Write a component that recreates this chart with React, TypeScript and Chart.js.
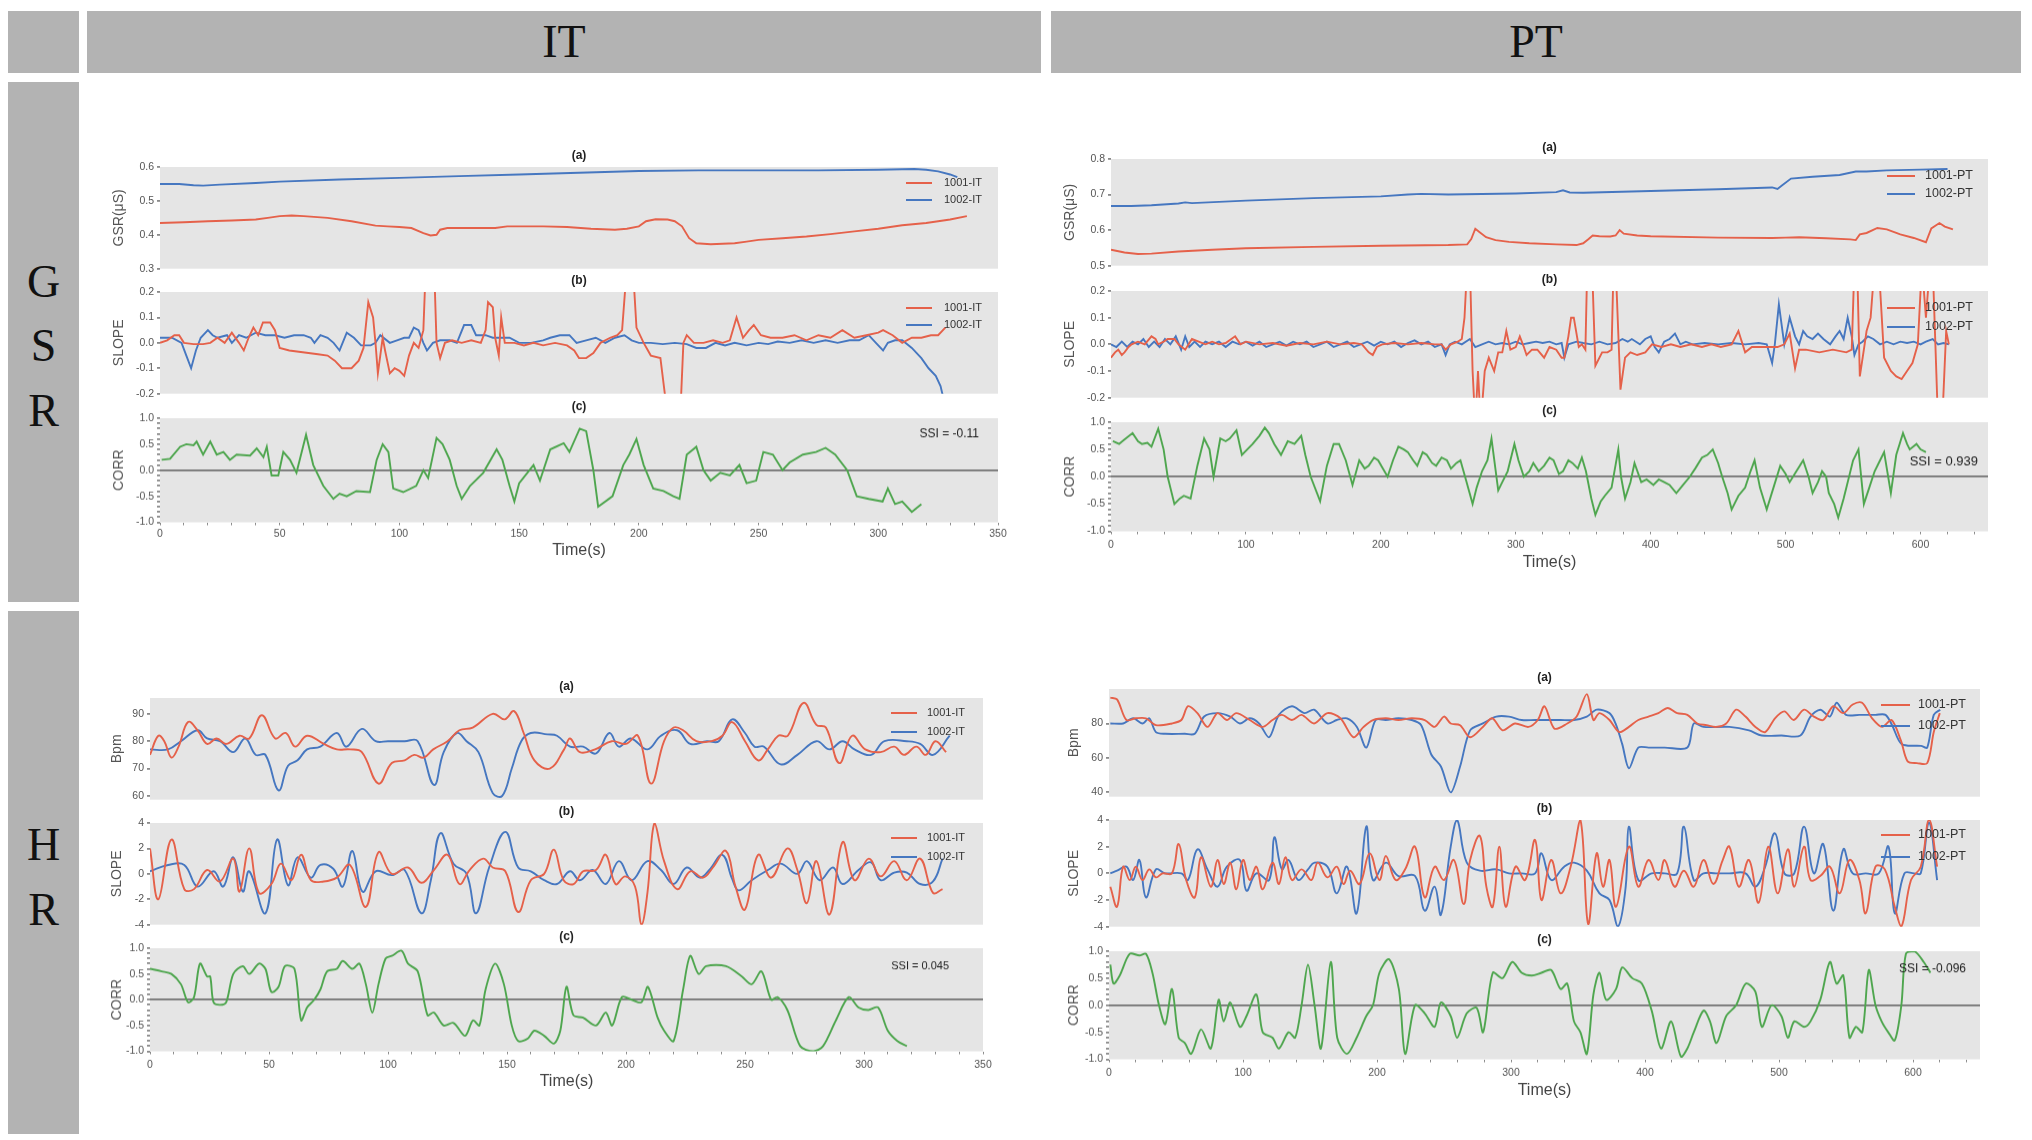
import { useEffect, useRef } from "react"
import { Chart, registerables, type ChartConfiguration, type Plugin } from "chart.js"

Chart.register(...registerables)
Chart.defaults.font.family = "'Liberation Sans', Arial, sans-serif"

type Pt = [number, number]

const RED = "#e5614a"
const BLUE = "#4677c0"
const GREEN = "#4ea64e"

// ---------- GSR, IT ----------
const gsrIt1001: Pt[] = [
  [0, 0.435], [10, 0.437], [20, 0.44], [30, 0.442], [40, 0.445], [45, 0.45], [50, 0.455], [55, 0.457],
  [60, 0.455], [70, 0.45], [80, 0.44], [90, 0.427], [95, 0.425], [100, 0.423], [105, 0.42], [110, 0.405],
  [113, 0.398], [115.5, 0.4], [117, 0.415], [120, 0.42], [130, 0.42], [140, 0.42], [145, 0.425], [150, 0.425],
  [160, 0.425], [170, 0.423], [180, 0.418], [190, 0.415], [195, 0.418], [200, 0.425], [203, 0.44], [207, 0.446],
  [212, 0.445], [215, 0.44], [218, 0.425], [221, 0.39], [224, 0.375], [230, 0.372], [240, 0.375], [245, 0.38],
  [250, 0.385], [260, 0.39], [270, 0.395], [280, 0.402], [290, 0.41], [300, 0.418], [310, 0.428], [320, 0.435],
  [330, 0.445], [337, 0.455],
]
const gsrIt1002: Pt[] = [
  [0, 0.55], [8, 0.55], [14, 0.546], [18, 0.545], [25, 0.548], [40, 0.553], [50, 0.557], [75, 0.563],
  [100, 0.568], [125, 0.573], [150, 0.578], [175, 0.583], [200, 0.588], [225, 0.59], [250, 0.59], [275, 0.59],
  [300, 0.592], [315, 0.594], [320, 0.592], [325, 0.587], [330, 0.578], [333, 0.57],
]
const gsrItSlope1001: Pt[] = [
  [0, 0], [3, 0.01], [6, 0.03], [8, 0.03], [10, 0.0], [14, -0.005], [18, -0.005], [21, 0.0], [24, 0.02],
  [27, 0.0], [30, 0.04], [33, 0.0], [35, -0.03], [37, 0.02], [39, 0.06], [41, 0.03], [43, 0.08], [46, 0.08],
  [48, 0.05], [50, -0.02], [54, -0.03], [58, -0.035], [62, -0.04], [66, -0.045], [70, -0.05], [73, -0.07],
  [76, -0.1], [80, -0.1], [83, -0.07], [85, -0.02], [87, 0.16], [89, 0.1], [90, 0.0], [91, -0.12], [92, -0.05],
  [93, 0.02], [94, -0.03], [96, -0.12], [98, -0.1], [100, -0.11], [102, -0.13], [104, -0.05], [106, 0.0],
  [108, -0.02], [110, 0.05], [111, 0.3], [113, 0.3], [114.5, 0.3], [115.5, 0.0], [117, -0.06], [119, 0.0],
  [122, 0.01], [126, 0.0], [130, 0.01], [134, 0.0], [136, 0.05], [137, 0.16], [139, 0.14], [140, 0.02],
  [141.5, -0.05], [142.5, 0.1], [144, 0.0], [148, 0.0], [152, -0.01], [156, 0.0], [160, -0.01], [165, 0.0],
  [170, -0.01], [173, -0.03], [175, -0.06], [178, -0.06], [181, -0.04], [184, 0.0], [188, 0.02], [191, 0.03],
  [193, 0.05], [195, 0.3], [197.5, 0.3], [199, 0.06], [202, 0.0], [205, -0.05], [209, -0.06], [211.5, -0.25],
  [214, -0.35], [217, -0.35], [218.6, 0.0], [220, 0.03], [223, 0.0], [227, 0.0], [231, 0.01], [235, 0.0],
  [238, 0.01], [240.8, 0.1], [243.5, 0.02], [246, 0.05], [248, 0.07], [251, 0.03], [255, 0.02], [260, 0.02],
  [265, 0.03], [270, 0.01], [275, 0.03], [280, 0.02], [285, 0.05], [290, 0.02], [295, 0.03], [300, 0.04],
  [302, 0.05], [306, 0.03], [310, 0.0], [314, 0.02], [318, 0.02], [322, 0.03], [325, 0.03], [328, 0.06],
]
const gsrItSlope1002: Pt[] = [
  [0, 0.02], [5, 0.02], [9, 0.0], [11, -0.05], [13, -0.1], [15, -0.03], [17, 0.02], [20, 0.05], [22, 0.03],
  [24, 0.02], [28, 0.03], [30, 0.0], [33, 0.03], [36, 0.02], [40, 0.04], [44, 0.03], [48, 0.03], [52, 0.02],
  [56, 0.03], [60, 0.03], [63, 0.02], [64.5, 0.0], [67, 0.03], [70, 0.02], [72.5, 0.0], [75, -0.03], [78, 0.04],
  [81, 0.02], [84, -0.01], [88, -0.01], [90, 0.0], [92, 0.03], [96, 0.0], [99, 0.01], [102, 0.02], [104, 0.02],
  [106, 0.06], [108, 0.05], [110, 0.0], [111.5, -0.03], [114, 0.0], [117, 0.01], [121, 0.01], [124, 0.0],
  [127, 0.07], [130, 0.07], [132, 0.03], [136, 0.03], [139, 0.02], [143, 0.02], [146, 0.02], [150, 0.0],
  [155, 0.0], [160, 0.01], [163, 0.02], [167, 0.03], [171, 0.03], [174, 0.0], [178, 0.01], [182, 0.02],
  [186, 0.0], [190, 0.02], [194, 0.03], [197, 0.01], [200, 0.0], [205, 0.0], [210, -0.005], [215, 0.0],
  [220, -0.005], [224, -0.02], [228, -0.02], [232, 0.0], [236, -0.01], [240, 0.0], [245, -0.01], [250, 0.0],
  [254, -0.005], [258, 0.005], [263, 0.0], [268, 0.01], [273, 0.0], [278, 0.01], [283, 0.0], [288, 0.01],
  [292, 0.01], [296, 0.03], [299, 0.0], [302, -0.03], [304, 0.0], [307, 0.01], [310, 0.01], [314, -0.02],
  [318, -0.06], [321, -0.1], [324, -0.13], [326, -0.17], [328, -0.25],
]
const gsrItCorr: Pt[] = [
  [0.7, 0.2], [4.2, 0.22], [8.4, 0.45], [11, 0.5], [14, 0.48], [15.3, 0.55], [18, 0.3], [21, 0.55], [23.7, 0.3],
  [26.5, 0.35], [29.2, 0.2], [32, 0.3], [37.6, 0.28], [40.4, 0.42], [43.2, 0.25], [44.6, 0.45], [46.6, -0.1],
  [49.4, -0.1], [51.5, 0.35], [54.3, 0.2], [57, -0.05], [61, 0.68], [64, 0.1], [68.2, -0.3], [72.4, -0.55],
  [75, -0.45], [78, -0.5], [82, -0.4], [87.7, -0.42], [90.5, 0.2], [93, 0.5], [95.4, 0.35], [97.4, -0.35],
  [101.6, -0.42], [107, -0.3], [110, 0.0], [112, -0.15], [115.5, 0.62], [118, 0.5], [121, 0.2], [123.9, -0.3],
  [126, -0.55], [129.5, -0.3], [135, -0.05], [140.6, 0.4], [143, 0.2], [146, -0.3], [148, -0.6], [150, -0.25],
  [156, 0.1], [158.7, -0.2], [163, 0.4], [168.6, 0.52], [171, 0.35], [175.3, 0.8], [178, 0.75], [181, 0.0],
  [183, -0.7], [189, -0.5], [193.5, 0.1], [196, 0.3], [199, 0.6], [202, 0.1], [206, -0.35], [210.3, -0.4],
  [214.4, -0.5], [217, -0.55], [220, 0.3], [224, 0.45], [227, 0.0], [230, -0.2], [234, -0.05], [238, -0.1],
  [242, 0.1], [245, -0.25], [249, -0.2], [252, 0.35], [256, 0.3], [260, 0.0], [263, 0.15], [268.5, 0.3],
  [274, 0.35], [278, 0.43], [282, 0.3], [287, 0.0], [291, -0.5], [296, -0.55], [301.8, -0.6], [304, -0.35],
  [307, -0.65], [310, -0.6], [314, -0.8], [318, -0.65],
]

// ---------- GSR, PT ----------
const gsrPt1001: Pt[] = [
  [0, 0.545], [10, 0.537], [20, 0.533], [30, 0.534], [50, 0.54], [75, 0.545], [100, 0.549], [150, 0.553],
  [200, 0.556], [250, 0.558], [264, 0.56], [267, 0.575], [270, 0.604], [273, 0.595], [278, 0.58], [285, 0.572],
  [295, 0.567], [310, 0.563], [330, 0.56], [345, 0.558], [350, 0.563], [354, 0.575], [357, 0.585], [362, 0.583],
  [370, 0.582], [374, 0.585], [377, 0.6], [380, 0.59], [390, 0.585], [400, 0.583], [450, 0.579], [490, 0.578],
  [500, 0.579], [510, 0.58], [530, 0.577], [548, 0.574], [552, 0.572], [555, 0.588], [560, 0.592], [568, 0.606],
  [575, 0.602], [585, 0.588], [595, 0.578], [604, 0.566], [608, 0.605], [614, 0.62], [618, 0.61], [624, 0.602],
]
const gsrPt1002: Pt[] = [
  [0, 0.668], [15, 0.668], [30, 0.67], [50, 0.675], [55, 0.678], [60, 0.676], [100, 0.683], [150, 0.69],
  [200, 0.695], [220, 0.7], [230, 0.702], [250, 0.7], [300, 0.703], [330, 0.707], [335, 0.712], [340, 0.706],
  [350, 0.705], [400, 0.71], [450, 0.715], [490, 0.72], [494, 0.716], [497, 0.725], [504, 0.745], [520, 0.75],
  [540, 0.755], [552, 0.765], [560, 0.765], [575, 0.768], [600, 0.77], [620, 0.772],
]
const gsrPtSlope1001: Pt[] = [
  [0, -0.05], [3, -0.03], [5.4, -0.02], [8, -0.04], [10, -0.03], [13, -0.01], [15.3, 0.0], [20, 0.01], [25, 0.0],
  [30, 0.03], [33, 0.02], [35, 0.0], [39, 0.01], [42, 0.02], [47, 0.02], [50, 0.0], [55, -0.02], [60, 0.02],
  [65, 0.01], [70, 0.0], [75, 0.01], [80, 0.0], [85, 0.005], [92, 0.03], [96, 0.0], [100, 0.01], [110, 0.0],
  [120, 0.005], [130, -0.005], [140, 0.005], [150, 0.0], [160, 0.01], [170, 0.0], [180, 0.005], [186, 0.0],
  [191, -0.03], [194, -0.04], [197, -0.01], [201, 0.0], [210, 0.005], [220, 0.0], [230, 0.005], [240, 0.0],
  [245, 0.0], [248, -0.02], [252, 0.0], [257, 0.01], [260, 0.02], [262, 0.1], [264, 0.3], [266, 0.3],
  [268, -0.1], [270, -0.3], [272, -0.1], [274, -0.3], [277, -0.1], [280, -0.05], [284, -0.1], [287, -0.03],
  [290, -0.03], [293, 0.05], [296, -0.02], [300, -0.01], [303, 0.03], [306, -0.01], [308, -0.04], [312, -0.02],
  [316, -0.02], [321, -0.05], [325, -0.01], [330, -0.02], [334, -0.05], [336, -0.05], [339, 0.03], [341, 0.1],
  [343, 0.1], [346.7, -0.01], [349, 0.0], [351.6, -0.02], [353, 0.3], [356.5, 0.3], [359, -0.08], [364, -0.03],
  [368, -0.03], [371, -0.02], [372.5, 0.3], [374, 0.3], [377.6, -0.17], [381, -0.05], [385, -0.03], [390, -0.04],
  [396, -0.03], [401, 0.0], [408, -0.01], [415, 0.0], [422, -0.01], [430, 0.0], [438, -0.01], [445, 0.0],
  [452, -0.01], [460, 0.0], [465, 0.05], [470, -0.03], [475, -0.01], [485, -0.01], [494, -0.01], [499, 0.0],
  [503, 0.04], [507, -0.09], [510, -0.02], [515, -0.02], [525, -0.03], [535, -0.02], [545, -0.03], [549, -0.02],
  [551, 0.3], [553, 0.3], [555, -0.12], [558, -0.02], [560, 0.05], [563, 0.1], [566, 0.3], [569, 0.3],
  [573, -0.05], [578, -0.1], [582, -0.12], [586, -0.13], [590, -0.1], [594, -0.07], [598, 0.0], [601, 0.3],
  [604, 0.1], [607, 0.3], [609, 0.3], [611, 0.0], [613, -0.3], [616, -0.3], [619, 0.05], [621, 0.0],
]
const gsrPtSlope1002: Pt[] = [
  [0, 0.0], [4, -0.01], [8, 0.01], [12, -0.01], [16, 0.01], [20, 0.0], [24, 0.02], [28, -0.01], [32, 0.01],
  [36, -0.01], [40, 0.02], [44, 0.0], [48, 0.03], [52, -0.02], [55, 0.03], [58, -0.01], [62, 0.01], [66, -0.01],
  [70, 0.01], [75, 0.0], [80, 0.01], [85, -0.01], [90, 0.01], [95, 0.0], [100, 0.01], [105, -0.005], [110, 0.01],
  [115, -0.01], [120, 0.0], [125, 0.01], [130, -0.005], [135, 0.01], [140, 0.0], [145, 0.01], [150, -0.01],
  [155, 0.0], [160, 0.01], [165, -0.01], [170, 0.0], [175, 0.01], [180, -0.01], [185, 0.0], [190, 0.01],
  [195, -0.005], [200, 0.01], [205, 0.0], [210, 0.01], [215, -0.01], [220, 0.005], [225, 0.015], [230, 0.0],
  [235, 0.01], [240, -0.01], [245, 0.0], [248, -0.04], [251, 0.0], [255, 0.01], [260, 0.0], [266, 0.02],
  [270, -0.01], [275, 0.0], [280, 0.01], [285, 0.0], [290, 0.005], [295, 0.0], [300, 0.01], [305, 0.0],
  [310, 0.005], [315, 0.01], [320, 0.005], [325, 0.01], [330, 0.0], [334, 0.005], [336, -0.05], [339, 0.0],
  [345, 0.01], [350, 0.005], [356, 0.0], [362, 0.01], [368, 0.0], [374, 0.005], [379, 0.02], [383, 0.01],
  [386, 0.02], [392, 0.0], [396, 0.02], [400, 0.03], [403, -0.01], [406, -0.03], [410, 0.01], [414, 0.02],
  [418, 0.04], [422, 0.0], [426, 0.01], [431, 0.0], [440, 0.005], [450, 0.0], [460, 0.005], [470, 0.0],
  [480, 0.005], [486, 0.0], [490, -0.07], [492, 0.0], [495, 0.15], [499, 0.0], [503, 0.1], [507, 0.03],
  [510, 0.0], [513, 0.05], [516, 0.03], [520, 0.02], [524, 0.04], [528, 0.02], [533, 0.0], [537, 0.03],
  [540, 0.05], [543, 0.02], [546, 0.1], [549, 0.03], [551, -0.04], [554, 0.0], [557, 0.01], [561, 0.03],
  [565, 0.02], [570, 0.0], [575, 0.01], [580, 0.0], [585, 0.01], [590, 0.005], [595, 0.01], [600, 0.0],
  [604, 0.01], [609, 0.02], [613, 0.0], [617, 0.005], [621, 0.0],
]
const gsrPtCorr: Pt[] = [
  [1.4, 0.65], [6, 0.6], [10, 0.68], [16, 0.8], [20, 0.65], [23, 0.6], [27, 0.62], [30, 0.55], [35, 0.88],
  [39, 0.5], [42, 0.0], [47, -0.5], [51, -0.4], [54, -0.35], [59, -0.4], [64, 0.2], [69, 0.7], [73, 0.5],
  [76, 0.0], [81, 0.7], [85, 0.65], [88, 0.7], [93, 0.85], [97, 0.4], [101, 0.5], [105, 0.6], [110, 0.75],
  [114, 0.9], [117, 0.8], [121, 0.6], [126, 0.4], [131, 0.65], [136, 0.6], [141, 0.75], [144, 0.4], [148, 0.0],
  [155, -0.45], [160, 0.2], [165, 0.6], [169, 0.6], [174, 0.3], [179, -0.15], [184, 0.3], [188, 0.15],
  [191, 0.2], [195, 0.35], [198, 0.3], [205, 0.0], [209, 0.3], [213, 0.55], [217, 0.5], [220, 0.45],
  [224, 0.3], [227, 0.2], [231, 0.45], [234, 0.4], [238, 0.25], [241, 0.2], [245, 0.35], [249, 0.3],
  [252, 0.15], [256, 0.25], [259, 0.3], [263, -0.05], [268, -0.5], [271, -0.2], [275, 0.1], [279, 0.3],
  [282, 0.7], [287, -0.25], [290, -0.1], [294, 0.1], [299, 0.6], [302, 0.3], [306, 0.0], [310, 0.1],
  [313, 0.25], [317, 0.1], [321, 0.2], [325, 0.35], [328, 0.3], [332, 0.05], [335, 0.1], [339, 0.3],
  [342, 0.25], [346, 0.15], [349, 0.35], [352, 0.1], [356, -0.4], [359, -0.7], [363, -0.45], [366, -0.35],
  [371, -0.2], [376, 0.5], [378, 0.0], [381, -0.4], [385, -0.1], [388, 0.25], [393, -0.1], [397, -0.05],
  [402, -0.15], [406, -0.05], [410, -0.1], [414, -0.15], [419, -0.3], [424, -0.15], [429, 0.0], [433, 0.15],
  [438, 0.35], [442, 0.4], [446, 0.5], [450, 0.25], [453, 0.0], [457, -0.3], [460, -0.6], [465, -0.35],
  [470, -0.2], [474, 0.1], [477, 0.3], [481, -0.2], [486, -0.6], [491, -0.2], [496, 0.2], [500, 0.05],
  [503, -0.1], [508, 0.1], [513, 0.3], [517, 0.0], [520, -0.3], [524, -0.1], [527, 0.1], [530, 0.0],
  [532, -0.3], [536, -0.5], [539, -0.75], [543, -0.4], [546, -0.1], [550, 0.3], [554, 0.5], [558, -0.5],
  [562, -0.2], [566, 0.1], [570, 0.3], [573, 0.45], [578, -0.3], [582, 0.4], [587, 0.8], [590, 0.6],
  [592, 0.5], [597, 0.6], [600, 0.5], [604, 0.45],
]

// ---------- HR, IT ----------
const hrIt1001: Pt[] = [
  [0, 75], [3.5, 82], [6, 80], [9, 74], [12, 78], [16, 87], [20, 84], [24, 79], [28, 81], [32, 79], [37.6, 82],
  [41.7, 81], [47, 89.5], [52.6, 81], [57, 83], [61, 78], [66, 82], [73, 79], [78.5, 77], [84, 77], [89, 76],
  [96, 64.5], [101.6, 72], [107, 73], [111, 75], [115, 74], [119, 77], [125, 80], [130, 84], [135.6, 85],
  [144, 90], [149, 88], [153, 91], [157, 83], [161.5, 73], [168, 70], [174, 77], [176.5, 81], [180.6, 76],
  [187, 77], [194, 80], [200, 79], [205, 82], [210.5, 64.5], [216, 80], [220, 85], [224, 84], [229.6, 80],
  [236, 80], [240.5, 82], [244.6, 87], [250, 80], [255.5, 73], [259.6, 77], [264, 82], [268, 82], [274.6, 94],
  [280, 86], [284, 85], [289.6, 72], [295, 82], [300.5, 77], [307, 76], [312.7, 78], [316.8, 75], [322, 78],
  [326, 75], [330, 80], [334.5, 76],
]
const hrIt1002: Pt[] = [
  [0, 77], [7.6, 77], [13, 80], [20, 84], [24, 81], [29.4, 80], [35, 76], [40, 81], [44.4, 75], [48.5, 75],
  [54, 62], [58, 71], [62, 73], [66, 77], [71.6, 78], [78.5, 83], [82.5, 78], [89, 84.5], [94.8, 80], [100, 80],
  [107, 80], [112.5, 80], [119.3, 64], [123.4, 76], [129, 83], [133, 80], [138, 76], [144, 61], [148, 60],
  [152, 70], [156, 80], [160, 83], [167, 82.5], [171, 82], [176.5, 78], [182, 78], [187.4, 75.5], [193, 83],
  [197, 78], [202, 81], [209, 77], [214.7, 82], [221.5, 84], [227, 79], [234, 80], [239, 80], [244.6, 88],
  [250, 83], [254, 78], [258, 78], [265, 71.5], [272, 75], [280, 80], [285.5, 77], [291, 80], [296, 77],
  [303, 75], [308.6, 80], [318, 80], [323.6, 79], [329, 75], [336, 82],
]
const hrItSlope1001: Pt[] = [
  [0, 2], [3.5, -2], [9, 2.7], [14.4, -1.2], [18.5, -1.2], [24, 0.3], [29.4, -0.6], [35, 1.2], [37.6, -1.4],
  [41.7, 2.0], [45.8, -1.5], [51, -0.8], [55, 0.8], [59.4, -0.5], [63.5, 1.5], [67.6, -0.5], [73, -0.6],
  [78.5, -0.3], [84, 0.7], [90.7, -2.6], [96, 1.7], [101.6, 0.0], [108.4, 0.5], [114, -0.7], [119.3, 0.3],
  [125, 1.5], [130, -0.8], [134.3, 0.3], [140, 1.2], [144, 0.5], [149.3, 0.2], [154.7, -3.0], [160, -0.5],
  [165.6, 0.0], [169.7, 1.9], [173.8, -0.5], [178, -0.8], [182, 0.2], [187.4, 0.3], [191.5, 1.5], [195.6, -0.8],
  [199.7, -0.2], [203.8, -1.0], [206.5, -4.0], [209, -1.5], [212, 4.0], [216, 1.0], [221.5, -1.2], [227, 0.2],
  [232.4, -0.3], [236.5, 0.5], [242, 1.8], [246, -1.0], [250, -2.8], [255.5, 1.5], [261, -0.3], [267.8, 2.0],
  [272, 0.3], [276, -2.3], [280, 1.0], [285.5, -3.2], [291, 2.5], [296, -0.5], [302, 1.2], [307, -0.2],
  [312.7, 1.0], [318, -0.5], [323.6, 1.2], [329, -1.5], [333, -1.2],
]
const hrItSlope1002: Pt[] = [
  [0, 0.2], [7.6, 0.7], [14.4, 0.7], [20, -1.0], [26.7, 0.2], [30.8, -1.0], [35, 1.3], [39, -1.4], [41.7, 0.2],
  [48.5, -3.1], [53.4, 2.7], [58, -0.9], [62, 1.3], [67.6, -0.3], [71.6, 0.7], [77, 0.4], [81, -1.0], [85, 1.8],
  [89.3, -1.4], [94.8, 0.2], [101.6, -0.1], [107, 0.3], [114, -3.1], [118, -0.5], [122, 3.2], [127.5, 0.8],
  [133, 0.0], [137, -3.1], [142.5, 0.5], [149.3, 3.3], [154.7, 0.5], [160, 0.2], [165.6, -0.5], [171, -0.8],
  [176.5, 0.2], [180.6, -0.5], [186, 0.3], [191.5, -0.8], [197, 1.0], [202.4, -0.5], [209, 1.0], [214.7, 0.3],
  [220, -0.8], [225.5, 0.5], [231, -0.3], [235, 0.3], [240.5, 1.5], [244.6, -0.4], [247.3, -1.3], [252.8, -0.5],
  [259.6, 0.3], [265, 0.8], [272, 0.0], [276, 1.0], [281.4, -0.5], [287, 0.5], [291, -0.8], [297.7, 0.3],
  [303, 0.9], [307, -0.5], [312.7, 0.1], [318, 0.1], [323.6, -0.8], [329, -0.6], [333, 1.2],
]
const hrItCorr: Pt[] = [
  [0, 0.6], [5, 0.55], [9, 0.5], [13, 0.3], [16, -0.05], [18.5, 0.05], [21, 0.7], [24, 0.45], [25.3, 0.45],
  [26.7, -0.05], [29.4, -0.1], [32, -0.05], [35, 0.5], [39, 0.65], [41.7, 0.5], [45.8, 0.7], [48.5, 0.6],
  [51, 0.15], [54, 0.25], [56.7, 0.65], [60.7, 0.6], [63.5, -0.4], [66, -0.15], [69, 0.0], [71.6, 0.2],
  [74.4, 0.55], [78.5, 0.6], [81, 0.75], [85, 0.6], [88, 0.7], [90.7, 0.3], [93.4, -0.25], [96, 0.3], [99, 0.8],
  [101.6, 0.85], [105.7, 0.95], [108.4, 0.7], [112.5, 0.55], [116.6, -0.3], [119.3, -0.25], [123.4, -0.5],
  [127.5, -0.45], [132.4, -0.7], [135.7, -0.4], [138.4, -0.5], [141, 0.2], [145, 0.7], [148.7, 0.3], [152, -0.5],
  [154.7, -0.8], [158.8, -0.75], [161.5, -0.6], [165.6, -0.7], [169.7, -0.85], [172.4, -0.6], [175, 0.25],
  [177.9, -0.3], [182, -0.35], [187.4, -0.5], [191.5, -0.25], [194.2, -0.5], [198.3, 0.05], [202.4, 0.0],
  [206.5, -0.05], [209.2, 0.25], [213.3, -0.35], [216, -0.6], [220, -0.8], [224, 0.2], [227, 0.85], [230.5, 0.5],
  [233.7, 0.65], [242, 0.65], [248.7, 0.45], [252.8, 0.3], [256.9, 0.55], [261, 0.0], [263.7, 0.05],
  [267.8, -0.2], [273.2, -0.9], [278.7, -1.0], [282.8, -0.9], [288.2, -0.4], [293.6, 0.05], [297.7, -0.15],
  [301.8, -0.2], [305.9, -0.15], [310, -0.6], [314, -0.8], [318, -0.9],
]

// ---------- HR, PT ----------
const hrPt1001: Pt[] = [
  [1, 95], [6, 94], [13, 82], [20, 83], [27.6, 83], [35, 79], [47, 80], [54, 82], [59, 90], [66, 86], [73.5, 78],
  [81, 86], [88, 82], [95, 86], [105, 82], [114.7, 78], [122, 82], [129, 85], [136.5, 82], [143.7, 85], [153, 80],
  [163, 86], [172.7, 83], [182.4, 72], [190, 78], [197, 82], [206.6, 83], [216, 82], [226, 83], [235.6, 82],
  [243, 78], [250, 84], [255, 80], [262, 79], [269.5, 72], [279, 78], [286, 83], [293.7, 76], [303, 80],
  [313, 78], [320, 82], [325, 90], [332.4, 77], [342, 80], [349, 84], [356.6, 97], [361.5, 82], [366, 86],
  [373.5, 82], [380.8, 75], [388, 78], [395, 82], [402.6, 84], [410, 86], [417, 89], [424, 86], [431.6, 85],
  [439, 80], [446, 79], [453, 78], [460.6, 80], [468, 88], [475, 84], [482.4, 78], [489.7, 75], [497, 83],
  [504, 87], [511, 82], [518.7, 88], [526, 84], [533, 82], [540.5, 90], [548, 86], [555, 91], [562, 92],
  [569.5, 83], [577, 78], [584, 82], [591, 70], [596, 58], [603, 57], [610.6, 57], [615.5, 75], [620, 86],
]
const hrPt1002: Pt[] = [
  [1, 80], [10.6, 80], [18, 83], [25, 80], [30, 83], [35, 75], [42, 74], [56.6, 74], [64, 74], [71, 84], [81, 86],
  [90.5, 84], [97.7, 80], [105, 83], [112, 80], [119.5, 72], [126.8, 85], [136.5, 90], [146, 86], [153, 88],
  [163, 80], [170, 82], [177.6, 83], [185, 78], [192, 66], [199, 82], [206.6, 82], [216, 83], [226, 82],
  [233, 79], [240.5, 62], [247.7, 55], [255, 40], [262, 55], [269.5, 76], [279, 80], [289, 84], [298.5, 84],
  [308, 82], [318, 82], [327.6, 82], [337, 82], [347, 82], [356.6, 84], [364, 88], [373.5, 86], [378, 80],
  [383, 68], [388, 54], [395, 66], [402.6, 66], [414.7, 66], [431.6, 66], [436.4, 80], [443.7, 78], [463, 78],
  [477.6, 76], [487, 73], [501.8, 73], [516, 73], [523.5, 84], [530.8, 88], [538, 84], [543, 92], [550, 85],
  [560, 85], [572, 85], [579.5, 85], [584.4, 79], [591.6, 68], [606, 67], [610.6, 66], [615.5, 85], [620.3, 88],
]
const hrPtSlope1001: Pt[] = [
  [1, -1], [6, -2.5], [10.6, 0.5], [15.5, -0.5], [20, 0.5], [25, -0.5], [30, 0.3], [35, -0.3], [40, 0], [47, 0],
  [52, 2.2], [57.6, -0.5], [64, -1.8], [68.7, 1.2], [76, -1.0], [81, 1.0], [85.6, -0.8], [90.5, 0.8], [95, -1.2],
  [100, 1.0], [105, -0.5], [110, 0.5], [114.7, -1.2], [122, 0.8], [126.8, -0.8], [131.6, 1.2], [136.5, -0.5],
  [143.7, 0.3], [151, -0.5], [155.8, 0.8], [163, -0.3], [170, 0.5], [175, -0.8], [180, 0.2], [187, -0.8],
  [194.5, 1.5], [201.8, -0.5], [206.6, 1.3], [213.9, -0.5], [221, 0.3], [228.4, 2.0], [235.6, -1.8], [243, 0.5],
  [250, -0.5], [257.4, 1.0], [264.7, -2.3], [269.5, 1.0], [276.8, 2.8], [281.6, -1.0], [286.4, -2.5], [291.3, 2.0],
  [296, -2.5], [303.4, 0.5], [310.6, -0.5], [318, 2.5], [322.7, -2.0], [330, 1.0], [337, -1.5], [344.5, 0.5],
  [351.8, 4.0], [357.6, -3.8], [363.9, 1.5], [368.7, -1.0], [373.5, 1.0], [378.4, -2.5], [388, 2.0], [395, -1.0],
  [402.6, 1.0], [410, -0.5], [414.7, 1.0], [422, -1.0], [429, 0.2], [436.4, -1.0], [443.7, 1.0], [451, -0.8],
  [458, 1.0], [463, 2.0], [470, -1.0], [477.6, 1.0], [484.8, -2.2], [492, 2.0], [499, -1.5], [506.6, 1.8],
  [511.4, -1.0], [518.7, 2.0], [523.5, -0.5], [530.8, -0.2], [538, 0.5], [545.3, -1.5], [552.6, 1.0],
  [560, -0.5], [564.7, -3.0], [572, 0.5], [579, 0.3], [586.4, -2.5], [591.3, -4.0], [598.5, -0.5], [605.8, 0.5],
  [612, 4.0], [618, 0.5],
]
const hrPtSlope1002: Pt[] = [
  [1, 0], [6, 0.2], [13, 0.5], [18, -0.5], [22.7, 1.0], [27.6, -1.8], [35, 0.3], [42, 0], [54, 0], [59, -0.5],
  [66, 1.8], [73.5, 0.3], [81, -1.0], [88, 0.5], [97.7, 1.0], [102.6, -1.3], [110, 0.0], [119.5, -0.5],
  [123.4, 2.7], [129, 0.3], [134, 1.0], [141.3, -0.5], [148.5, 0.3], [153.4, 0.8], [163, 0.5], [170, -1.5],
  [177.6, 0.5], [184.8, -3.0], [192, 3.5], [197, -0.5], [206.6, 0.8], [216, -0.2], [228.4, -0.2], [235.6, -2.8],
  [243, -1.0], [247.7, -3.1], [255, 2.0], [259.8, 4.0], [267, 0.8], [276.8, 0.2], [289, 0.3], [298.5, 0.0],
  [308, 0.0], [318, 0.0], [322.7, 1.5], [330, -0.5], [339.7, 0.5], [347, 0.8], [356.6, 0.2], [366, -1.5],
  [373.5, -2.0], [379.8, -4.0], [385.6, -1.0], [388, 3.5], [395, -0.5], [405, 0], [414.7, 0], [424, 0],
  [429, 3.5], [436.4, -0.5], [443.7, 0], [453, 0], [463, 0], [475, 0], [482.4, -1.0], [489.7, 0.5], [497, 3.0],
  [504, 0], [511.4, 0], [518.7, 3.5], [526, 0], [533, 2.2], [540.5, -2.8], [548, 1.8], [555, 0], [564.7, 0],
  [574.5, 0], [581.7, 2.0], [586.4, -3.0], [593.6, 0], [600.9, 0], [605.8, 0], [612, 3.8], [618, -0.5],
]
const hrPtCorr: Pt[] = [
  [1, 0.75], [3.4, 0.4], [8, 0.55], [15.5, 0.95], [22.7, 0.92], [27.6, 0.95], [32.4, 0.6], [37.3, 0.0],
  [42, -0.35], [47, 0.3], [52, -0.6], [56.6, -0.7], [61.4, -0.9], [68.7, -0.45], [76, -0.8], [81.8, 0.1],
  [85.6, -0.3], [90.5, 0.05], [97.7, -0.4], [102.6, -0.2], [110, 0.2], [114.7, -0.5], [122, -0.6], [126.8, -0.8],
  [134, -0.5], [138.9, -0.6], [143.7, 0.0], [148.5, 0.75], [153.4, 0.0], [158.2, -0.8], [165.5, 0.8],
  [170.3, -0.6], [177.6, -0.9], [184.8, -0.6], [192, -0.2], [197, 0.0], [201.8, 0.6], [209, 0.85], [216.3, 0.3],
  [221, -0.9], [228.4, 0.0], [235.6, -0.15], [243, -0.4], [247.7, 0.05], [255, -0.2], [259.8, -0.6],
  [267, -0.15], [274.4, -0.05], [279.2, -0.5], [286.4, 0.6], [293.7, 0.5], [301, 0.8], [308, 0.6], [315.5, 0.55],
  [322.7, 0.6], [330, 0.65], [337, 0.3], [342, 0.4], [347, -0.3], [351.8, -0.5], [356.6, -0.9], [361.5, 0.2],
  [366, 0.6], [371, 0.1], [378.4, 0.3], [383, 0.7], [390.5, 0.5], [397.7, 0.4], [405, -0.1], [412, -0.8],
  [419.5, -0.3], [426.8, -0.95], [431.6, -0.8], [436.4, -0.5], [443.7, -0.1], [448.5, -0.3], [453.4, -0.7],
  [460.6, -0.2], [468, 0.0], [475.2, 0.4], [482.4, 0.25], [487.2, -0.4], [494.5, 0.0], [501.8, -0.2],
  [506.6, -0.6], [511.4, -0.3], [518.7, -0.4], [523.5, -0.3], [530.8, 0.1], [538, 0.8], [543, 0.4], [548, 0.55],
  [552.6, -0.6], [557.4, -0.4], [562.2, -0.5], [567, 0.65], [572, 0.0], [576.6, -0.3], [581.5, -0.5],
  [586.4, -0.65], [591.3, 0.0], [594.7, 0.95], [601, 1.0], [608, 0.8], [613, 0.6],
]

// ---------- ticks ----------
const itTimeTicks = [0, 10, 20, 30, 40, 50, 60, 70, 80, 90, 100, 110, 120, 130, 140, 150, 160, 170, 180, 190, 200,
  210, 220, 230, 240, 250, 260, 270, 280, 290, 300, 310, 320, 330, 340, 350]
const itTimeLabels = [0, 50, 100, 150, 200, 250, 300, 350]
const ptTimeTicks = [0, 20, 40, 60, 80, 100, 120, 140, 160, 180, 200, 220, 240, 260, 280, 300, 320, 340, 360, 380,
  400, 420, 440, 460, 480, 500, 520, 540, 560, 580, 600, 620, 640]
const ptTimeLabels = [0, 100, 200, 300, 400, 500, 600]
const gsrItTicks = [0.3, 0.4, 0.5, 0.6]
const gsrPtTicks = [0.5, 0.6, 0.7, 0.8]
const gsrSlopeTicks = [-0.2, -0.1, 0, 0.1, 0.2]
const hrItTicks = [60, 70, 80, 90]
const hrPtTicks = [40, 60, 80]
const hrSlopeTicks = [-4, -2, 0, 2, 4]
const corrTicks = [-1, -0.9, -0.8, -0.7, -0.6, -0.5, -0.4, -0.3, -0.2, -0.1, 0, 0.1, 0.2, 0.3, 0.4, 0.5, 0.6, 0.7,
  0.8, 0.9, 1]
const corrLabels = [-1, -0.5, 0, 0.5, 1]

interface Series { label: string; data: Pt[]; color: string }
interface XAxisSpec { ticks: number[]; labels: number[]; pad: number; height: number }
interface LegendSpec { line: [number, number]; text: number; rows: [number, number]; size: number }
interface SsiSpec { text: string; dx: number; dy: number; size: number }
interface SubplotSpec {
  rect: [number, number, number, number]
  yW: number
  title: string
  yLabel: string
  yRange: [number, number]
  yTicks: number[]
  yLabels: number[]
  yDigits: number
  xMax: number
  series: Series[]
  tension: number
  legend?: LegendSpec
  ssi?: SsiSpec
  xAxis?: XAxisSpec
  zeroLine?: boolean
}

const PAD_TOP = 22
const PAD_RIGHT = 18

const panelBg: Plugin<"line"> = {
  id: "panelBg",
  beforeDraw(chart) {
    const { ctx, chartArea: a } = chart
    ctx.save()
    ctx.fillStyle = "#e5e5e5"
    ctx.fillRect(a.left, a.top, a.right - a.left, a.bottom - a.top)
    ctx.restore()
  },
}

function makeDecor(spec: SubplotSpec): Plugin<"line"> {
  return {
    id: "decor",
    afterDraw(chart) {
      const { ctx, chartArea: a } = chart
      ctx.save()
      ctx.textBaseline = "middle"
      ctx.fillStyle = "#222"
      ctx.textAlign = "center"
      ctx.font = "bold 12px 'Liberation Sans'"
      ctx.fillText(spec.title, (a.left + a.right) / 2, a.top - 11)
      if (spec.legend) {
        const g = spec.legend
        ctx.font = `${g.size}px 'Liberation Sans'`
        ctx.textAlign = "left"
        spec.series.forEach((s, i) => {
          const y = a.top + g.rows[i]
          ctx.strokeStyle = s.color
          ctx.lineWidth = 2
          ctx.beginPath()
          ctx.moveTo(a.right - g.line[0], y)
          ctx.lineTo(a.right - g.line[1], y)
          ctx.stroke()
          ctx.fillStyle = "#333"
          ctx.fillText(s.label, a.right - g.text, y)
        })
      }
      if (spec.ssi) {
        const s = spec.ssi
        ctx.font = `${s.size}px 'Liberation Sans'`
        ctx.textAlign = "right"
        ctx.fillStyle = "#222"
        ctx.fillText(s.text, a.right - s.dx, a.top + s.dy)
      }
      ctx.restore()
    },
  }
}

function Subplot({ spec }: { spec: SubplotSpec }) {
  const canvasRef = useRef<HTMLCanvasElement | null>(null)
  const [l, t, r, b] = spec.rect
  const padBottom = spec.xAxis ? 0 : 8
  const w = spec.yW + (r - l) + PAD_RIGHT
  const h = PAD_TOP + (b - t) + (spec.xAxis ? spec.xAxis.height : 0) + padBottom

  useEffect(() => {
    if (!canvasRef.current) return
    const x = spec.xAxis
    const config: ChartConfiguration<"line"> = {
      type: "line",
      data: {
        datasets: spec.series.map((s) => ({
          label: s.label,
          data: s.data.map(([px, py]) => ({ x: px, y: py })),
          borderColor: s.color,
          borderWidth: 1.9,
          pointRadius: 0,
          tension: spec.tension,
          fill: false,
        })),
      },
      options: {
        animation: false,
        responsive: false,
        maintainAspectRatio: false,
        events: [],
        layout: { padding: { top: PAD_TOP, right: PAD_RIGHT, left: 0, bottom: padBottom } },
        scales: {
          x: {
            type: "linear",
            min: 0,
            max: spec.xMax,
            display: !!x,
            afterFit: (s) => {
              if (x) s.height = x.height
            },
            afterBuildTicks: (s) => {
              if (x) s.ticks = x.ticks.map((v) => ({ value: v }))
            },
            ticks: {
              autoSkip: false,
              maxRotation: 0,
              padding: x ? x.pad : 3,
              color: "#555",
              font: { size: 10.5 },
              callback: (v) => (x && x.labels.includes(Number(v)) ? String(v) : ""),
            },
            grid: { drawOnChartArea: false, drawTicks: true, tickLength: 3, tickColor: "#8a8a8a" },
            border: { display: false },
            title: { display: true, text: "Time(s)", color: "#444", font: { size: 16 }, padding: 0 },
          },
          y: {
            type: "linear",
            min: spec.yRange[0],
            max: spec.yRange[1],
            afterFit: (s) => {
              s.width = spec.yW
            },
            afterBuildTicks: (s) => {
              s.ticks = spec.yTicks.map((v) => ({ value: v }))
            },
            ticks: {
              autoSkip: false,
              padding: 3,
              color: "#555",
              font: { size: 10.5 },
              callback: (v) => (spec.yLabels.includes(Number(v)) ? Number(v).toFixed(spec.yDigits) : ""),
            },
            grid: {
              drawOnChartArea: !!spec.zeroLine,
              drawTicks: true,
              tickLength: 3,
              tickColor: "#8a8a8a",
              lineWidth: 1.8,
              color: (c) => (c.tick && c.tick.value === 0 ? "#707070" : "rgba(0,0,0,0)"),
            },
            border: { display: false },
            title: { display: true, text: spec.yLabel, color: "#555", font: { size: 14 }, padding: 0 },
          },
        },
        plugins: { legend: { display: false }, tooltip: { enabled: false } },
      },
      plugins: [panelBg, makeDecor(spec)],
    }
    const chart = new Chart(canvasRef.current, config)
    return () => chart.destroy()
  }, [spec])

  return (
    <canvas
      ref={canvasRef}
      width={w}
      height={h}
      style={{ position: "absolute", left: l - spec.yW, top: t - PAD_TOP, width: w, height: h }}
    />
  )
}

const itLegend: LegendSpec = { line: [92, 66], text: 54, rows: [16, 33], size: 11 }
const ptLegend: LegendSpec = { line: [101, 73], text: 63, rows: [17, 35], size: 12.5 }
const hrItLegend: LegendSpec = { line: [92, 66], text: 56, rows: [15, 34], size: 11 }
const hrPtLegend: LegendSpec = { line: [99, 70], text: 62, rows: [16, 37], size: 12.5 }

const subplots: SubplotSpec[] = [
  // GSR / IT
  {
    rect: [160, 167, 998, 270], yW: 49, title: "(a)", yLabel: "GSR(μS)", yRange: [0.3, 0.6],
    yTicks: gsrItTicks, yLabels: gsrItTicks, yDigits: 1, xMax: 350, tension: 0, legend: itLegend,
    series: [{ label: "1001-IT", data: gsrIt1001, color: RED }, { label: "1002-IT", data: gsrIt1002, color: BLUE }],
  },
  {
    rect: [160, 292, 998, 395], yW: 49, title: "(b)", yLabel: "SLOPE", yRange: [-0.2, 0.2],
    yTicks: gsrSlopeTicks, yLabels: gsrSlopeTicks, yDigits: 1, xMax: 350, tension: 0, legend: itLegend,
    series: [{ label: "1001-IT", data: gsrItSlope1001, color: RED }, { label: "1002-IT", data: gsrItSlope1002, color: BLUE }],
  },
  {
    rect: [160, 418, 998, 522], yW: 49, title: "(c)", yLabel: "CORR", yRange: [-1, 1],
    yTicks: corrTicks, yLabels: corrLabels, yDigits: 1, xMax: 350, tension: 0, zeroLine: true,
    ssi: { text: "SSI = -0.11", dx: 19, dy: 16, size: 12 },
    xAxis: { ticks: itTimeTicks, labels: itTimeLabels, pad: 2.5, height: 37.5 },
    series: [{ label: "corr", data: gsrItCorr, color: GREEN }],
  },
  // GSR / PT
  {
    rect: [1111, 159, 1988, 267], yW: 49, title: "(a)", yLabel: "GSR(μS)", yRange: [0.5, 0.8],
    yTicks: gsrPtTicks, yLabels: gsrPtTicks, yDigits: 1, xMax: 650, tension: 0, legend: ptLegend,
    series: [{ label: "1001-PT", data: gsrPt1001, color: RED }, { label: "1002-PT", data: gsrPt1002, color: BLUE }],
  },
  {
    rect: [1111, 291, 1988, 399], yW: 49, title: "(b)", yLabel: "SLOPE", yRange: [-0.2, 0.2],
    yTicks: gsrSlopeTicks, yLabels: gsrSlopeTicks, yDigits: 1, xMax: 650, tension: 0,
    legend: { ...ptLegend, rows: [17, 36] },
    series: [{ label: "1001-PT", data: gsrPtSlope1001, color: RED }, { label: "1002-PT", data: gsrPtSlope1002, color: BLUE }],
  },
  {
    rect: [1111, 422, 1988, 531], yW: 49, title: "(c)", yLabel: "CORR", yRange: [-1, 1],
    yTicks: corrTicks, yLabels: corrLabels, yDigits: 1, xMax: 650, tension: 0, zeroLine: true,
    ssi: { text: "SSI = 0.939", dx: 10, dy: 39, size: 13 },
    xAxis: { ticks: ptTimeTicks, labels: ptTimeLabels, pad: 4, height: 40.5 },
    series: [{ label: "corr", data: gsrPtCorr, color: GREEN }],
  },
  // HR / IT
  {
    rect: [150, 698, 983, 801], yW: 41, title: "(a)", yLabel: "Bpm", yRange: [58.6, 95.8],
    yTicks: hrItTicks, yLabels: hrItTicks, yDigits: 0, xMax: 350, tension: 0.4, legend: hrItLegend,
    series: [{ label: "1001-IT", data: hrIt1001, color: RED }, { label: "1002-IT", data: hrIt1002, color: BLUE }],
  },
  {
    rect: [150, 823, 983, 926], yW: 41, title: "(b)", yLabel: "SLOPE", yRange: [-4, 4],
    yTicks: hrSlopeTicks, yLabels: hrSlopeTicks, yDigits: 0, xMax: 350, tension: 0.4, legend: hrItLegend,
    series: [{ label: "1001-IT", data: hrItSlope1001, color: RED }, { label: "1002-IT", data: hrItSlope1002, color: BLUE }],
  },
  {
    rect: [150, 948, 983, 1051], yW: 41, title: "(c)", yLabel: "CORR", yRange: [-1, 1],
    yTicks: corrTicks, yLabels: corrLabels, yDigits: 1, xMax: 350, tension: 0.3, zeroLine: true,
    ssi: { text: "SSI = 0.045", dx: 34, dy: 18, size: 11 },
    xAxis: { ticks: itTimeTicks, labels: itTimeLabels, pad: 4, height: 39.5 },
    series: [{ label: "corr", data: hrItCorr, color: GREEN }],
  },
  // HR / PT
  {
    rect: [1109, 689, 1980, 798], yW: 43, title: "(a)", yLabel: "Bpm", yRange: [37.5, 100],
    yTicks: hrPtTicks, yLabels: hrPtTicks, yDigits: 0, xMax: 650, tension: 0.3, legend: hrPtLegend,
    series: [{ label: "1001-PT", data: hrPt1001, color: RED }, { label: "1002-PT", data: hrPt1002, color: BLUE }],
  },
  {
    rect: [1109, 820, 1980, 928], yW: 43, title: "(b)", yLabel: "SLOPE", yRange: [-4, 4],
    yTicks: hrSlopeTicks, yLabels: hrSlopeTicks, yDigits: 0, xMax: 650, tension: 0.4,
    legend: { ...hrPtLegend, rows: [15, 37] },
    series: [{ label: "1001-PT", data: hrPtSlope1001, color: RED }, { label: "1002-PT", data: hrPtSlope1002, color: BLUE }],
  },
  {
    rect: [1109, 951, 1980, 1059], yW: 43, title: "(c)", yLabel: "CORR", yRange: [-1, 1],
    yTicks: corrTicks, yLabels: corrLabels, yDigits: 1, xMax: 650, tension: 0.3, zeroLine: true,
    ssi: { text: "SSI = -0.096", dx: 14, dy: 18, size: 12 },
    xAxis: { ticks: ptTimeTicks, labels: ptTimeLabels, pad: 4.5, height: 40.5 },
    series: [{ label: "corr", data: hrPtCorr, color: GREEN }],
  },
]

const headerGrey = "#b3b3b3"
const serif = "'Liberation Serif', 'DejaVu Serif', serif"

function Box({ x, y, w, h, children }: { x: number; y: number; w: number; h: number; children?: React.ReactNode }) {
  return (
    <div style={{ position: "absolute", left: x, top: y, width: w, height: h, background: headerGrey }}>{children}</div>
  )
}

function Letter({ ch, cy }: { ch: string; cy: number }) {
  return (
    <div
      style={{
        position: "absolute", left: 0, width: 71, top: cy - 28, height: 56, lineHeight: "56px",
        textAlign: "center", fontFamily: serif, fontSize: 46, color: "#111",
      }}
    >
      {ch}
    </div>
  )
}

export default function App() {
  return (
    <div style={{ position: "absolute", left: 0, top: 0, width: 2032, height: 1140, background: "#fff", overflow: "hidden" }}>
      <Box x={8} y={11} w={71} h={62} />
      <Box x={87} y={11} w={954} h={62}>
        <div style={{ lineHeight: "62px", textAlign: "center", fontFamily: serif, fontSize: 46, color: "#111" }}>IT</div>
      </Box>
      <Box x={1051} y={11} w={970} h={62}>
        <div style={{ lineHeight: "62px", textAlign: "center", fontFamily: serif, fontSize: 46, color: "#111" }}>PT</div>
      </Box>
      <Box x={8} y={82} w={71} h={520}>
        <Letter ch="G" cy={282 - 82} />
        <Letter ch="S" cy={346 - 82} />
        <Letter ch="R" cy={411 - 82} />
      </Box>
      <Box x={8} y={611} w={71} h={523}>
        <Letter ch="H" cy={845 - 611} />
        <Letter ch="R" cy={910 - 611} />
      </Box>
      {subplots.map((s, i) => (
        <Subplot key={i} spec={s} />
      ))}
    </div>
  )
}
